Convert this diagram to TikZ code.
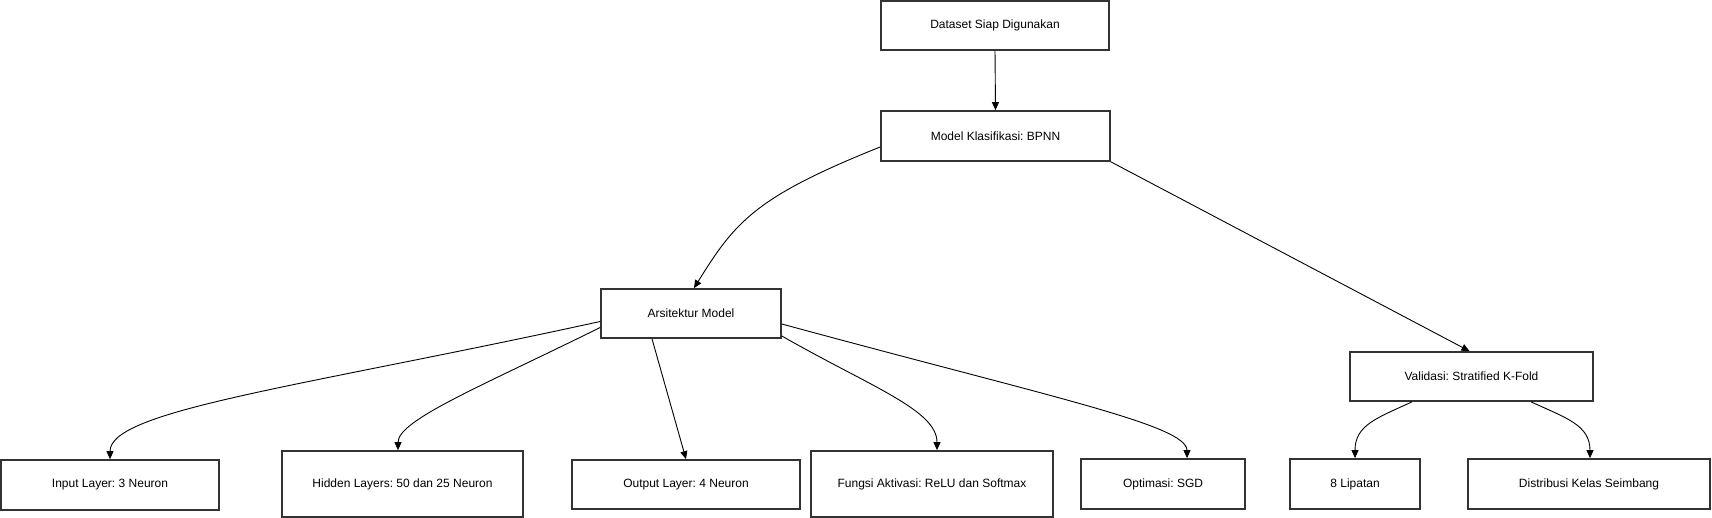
\documentclass[tikz,border=0pt]{standalone}
\usepackage{fontspec}
\setmainfont{Liberation Sans}
\usetikzlibrary{arrows.meta,calc}
\frenchspacing
\tikzset{
  box/.style={draw=black!80,line width=1.7pt,fill=white,inner sep=0pt,font=\fontsize{12}{14}\selectfont},
  conn/.style={draw=black,line width=0.9pt,-{Triangle[length=8pt,width=7pt]}}
}
\begin{document}
\begin{tikzpicture}[x=1pt,y=-1pt]
\useasboundingbox (0,0) rectangle (1712,518);
% nodes
\node[box,minimum width=228pt,minimum height=49pt] (ds)   at (995,25.5)   {Dataset Siap Digunakan};
\node[box,minimum width=229pt,minimum height=50pt] (bpnn) at (995.5,136)  {Model Klasifikasi: BPNN};
\node[box,minimum width=180pt,minimum height=49pt] (arch) at (691,313.5)  {Arsitektur Model};
\node[box,minimum width=243pt,minimum height=49pt] (val)  at (1471.5,376.5) {Validasi: Stratified K-Fold};
\node[box,minimum width=218pt,minimum height=50pt] (inp)  at (110,485)    {Input Layer: 3 Neuron};
\node[box,minimum width=241pt,minimum height=66pt] (hid)  at (402.5,484)  {Hidden Layers: 50 dan 25 Neuron};
\node[box,minimum width=228pt,minimum height=49pt] (out)  at (686,484.5)  {Output Layer: 4 Neuron};
\node[box,minimum width=242pt,minimum height=66pt] (fun)  at (932,484)    {Fungsi Aktivasi: ReLU dan Softmax};
\node[box,minimum width=164pt,minimum height=50pt] (opt)  at (1163,484)   {Optimasi: SGD};
\node[box,minimum width=130pt,minimum height=50pt] (lip)  at (1355,484)   {8 Lipatan};
\node[box,minimum width=242pt,minimum height=50pt] (dis)  at (1589,484)   {Distribusi Kelas Seimbang};
% connectors
\draw[conn] (ds.south) -- (bpnn.north);
\draw[conn] ([yshift=-11pt]bpnn.west) .. controls (755,197) and (735,222) .. ([xshift=3pt]arch.north);
\draw[conn] (bpnn.south east) -- ([xshift=-2pt]val.north);
\draw[conn] ([yshift=-8pt]arch.west) .. controls (301,387) and (110,410) .. (inp.north);
\draw[conn] ([yshift=-14pt]arch.west) .. controls (481,386.5) and (398,420) .. ([xshift=-4.5pt]hid.north);
\draw[conn] ([xshift=-39pt]arch.south) -- (out.north);
\draw[conn] ([yshift=-22.5pt]arch.east) .. controls (871,387) and (937,410) .. ([xshift=5pt]fun.north);
\draw[conn] ([yshift=-10.5pt]arch.east) .. controls (1050,397) and (1187,425) .. ([xshift=24pt]opt.north);
\draw[conn] ([xshift=-59.5pt]val.south) .. controls (1377,418) and (1355,425) .. (lip.north);
\draw[conn] ([xshift=59.5pt]val.south) .. controls (1566,418) and (1590,425) .. ([xshift=1pt]dis.north);
\end{tikzpicture}
\end{document}
